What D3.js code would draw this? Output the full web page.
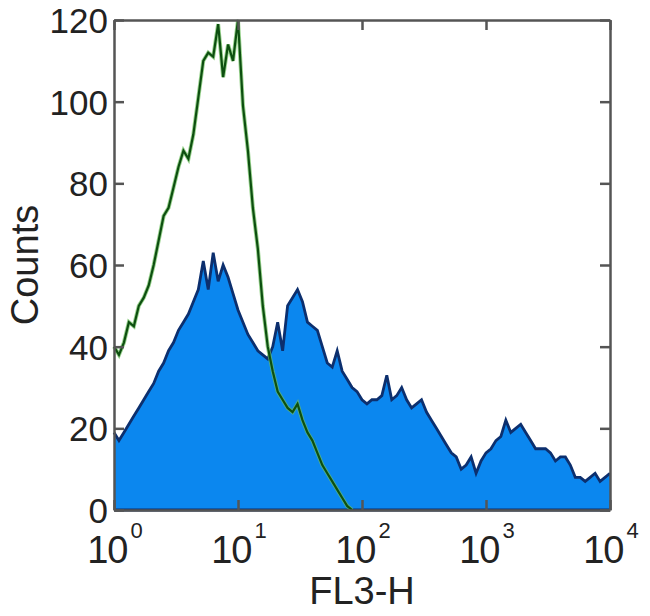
<!DOCTYPE html>
<html>
<head>
<meta charset="utf-8">
<script src="https://cdn.jsdelivr.net/npm/d3@7"></script>
<style>
  html, body { margin: 0; padding: 0; background: #ffffff; }
  svg { display: block; }
</style>
</head>
<body>
<svg id="chart" width="650" height="616"></svg>
<script>
// FL3-H channel positions, in decades (10^x)
const fl3Decades = [
  0.00,0.04,0.08,0.12,0.16,0.20,0.24,0.28,0.32,0.36,
  0.40,0.44,0.48,0.52,0.56,0.60,0.64,0.68,0.72,0.76,
  0.80,0.84,0.88,0.92,0.96,1.00,1.04,1.08,1.12,1.16,
  1.20,1.24,1.28,1.32,1.36,1.40,1.44,1.48,1.52,1.56,
  1.60,1.64,1.68,1.72,1.76,1.80,1.84,1.88,1.92,1.96,
  2.00,2.04,2.08,2.12,2.16,2.20,2.24,2.28,2.32,2.36,
  2.40,2.44,2.48,2.52,2.56,2.60,2.64,2.68,2.72,2.76,
  2.80,2.84,2.88,2.92,2.96,3.00,3.04,3.08,3.12,3.16,
  3.20,3.24,3.28,3.32,3.36,3.40,3.44,3.48,3.52,3.56,
  3.60,3.64,3.68,3.72,3.76,3.80,3.84,3.88,3.92,3.96,
  4.00
];
// Stained sample (blue filled histogram)
const stainedCounts = [
  19,17,19,21,23,25,27,29,31,34,
  36,39,41,44,46,48,51,54,61,54,
  63,56,60,57,53,49,46,43,41,39,
  38,37,40,46,39,50,52,54,51,46,
  45,44,40,36,35,39,34,32,30,29,
  27,26,27,27,28,33,27,28,30,27,
  25,26,27,24,22,20,18,16,14,13,
  10,11,13,9,12,14,15,17,18,22,
  19,20,21,19,17,15,15,15,14,12,
  13,13,11,8,8,7,8,9,7,8,
  9
];
// Isotype control (green line histogram)
const controlCounts = [
  40,38,41,46,45,50,52,55,60,66,
  72,74,79,84,88,86,92,101,110,112,
  111,119,106,114,110,120,99,88,74,64,
  50,40,34,29,27,25,24,26,22,19,
  17,14,11,9,7,5,3,1,0,0,
  0,0,0,0,0,0,0,0,0,0,
  0,0,0,0,0,0,0,0,0,0,
  0,0,0,0,0,0,0,0,0,0,
  0,0,0,0,0,0,0,0,0,0,
  0,0,0,0,0,0,0,0,0,0,
  0
];
const xTickExponents = ["0","1","2","3","4"];
const xTickValues = [1, 10, 100, 1000, 10000];
const yTickValues = [0, 20, 40, 60, 80, 100, 120];
const xTitle = "FL3-H";
const yTitle = "Counts";

const L = 114, R = 610, T = 20, B = 510;
const svg = d3.select("#chart");
const x = d3.scaleLog().domain([1, 10000]).range([L, R]);
const y = d3.scaleLinear().domain([0, 120]).range([B, T]);

const stained = fl3Decades.map((d, i) => ({ v: Math.pow(10, d), c: stainedCounts[i] }));
const control = fl3Decades.map((d, i) => ({ v: Math.pow(10, d), c: controlCounts[i] }))
  .filter((d, i) => i <= 48);

const area = d3.area().x(d => x(d.v)).y0(y(0)).y1(d => y(d.c));
const line = d3.line().x(d => x(d.v)).y(d => y(d.c));

svg.append("path").datum(stained).attr("d", area).attr("fill", "#0b87ef");
svg.append("path").datum(stained).attr("d", line)
  .attr("fill", "none").attr("stroke", "#0c2f6e").attr("stroke-width", 2.8)
  .attr("stroke-linejoin", "miter");
svg.append("line").attr("x1", x(1)).attr("x2", x(10000)).attr("y1", y(0)).attr("y2", y(0))
  .attr("stroke", "#0c2f6e").attr("stroke-width", 3);

svg.append("path").datum(control).attr("d", line)
  .attr("fill", "none").attr("stroke", "#6cbf5c").attr("stroke-width", 4).attr("opacity", 0.7);
svg.append("path").datum(control).attr("d", line)
  .attr("fill", "none").attr("stroke", "#0d4f10").attr("stroke-width", 2.2);

const axisColor = "#555555";
const textColor = "#222222";
const font = "'Liberation Sans', Arial, Helvetica, sans-serif";

function styleAxis(g) {
  g.select(".domain").attr("stroke", axisColor).attr("stroke-width", 2.5);
  g.selectAll(".tick line").attr("stroke", axisColor).attr("stroke-width", 2.5);
  g.selectAll("text").attr("fill", textColor).style("font-family", font);
}

// Left axis
const gLeft = svg.append("g").attr("transform", `translate(${L},0)`)
  .call(d3.axisLeft(y).tickValues(yTickValues).tickSize(-10).tickSizeOuter(0).tickPadding(6).tickFormat(d3.format("d")));
styleAxis(gLeft);
gLeft.selectAll("text").style("font-size", "35px").attr("dy", "0.36em");

// Right axis
const gRight = svg.append("g").attr("transform", `translate(${R},0)`)
  .call(d3.axisRight(y).tickValues(yTickValues).tickSize(-10).tickSizeOuter(0).tickFormat(""));
styleAxis(gRight);

// Top axis
const gTop = svg.append("g").attr("transform", `translate(0,${T})`)
  .call(d3.axisTop(x).tickValues(xTickValues).tickSize(-10).tickSizeOuter(0).tickFormat(""));
styleAxis(gTop);

// Bottom axis
const gBottom = svg.append("g").attr("transform", `translate(0,${B})`)
  .call(d3.axisBottom(x).tickValues(xTickValues).tickSize(-10).tickSizeOuter(0).tickPadding(0).tickFormat(""));
styleAxis(gBottom);
gBottom.selectAll(".tick").each(function(d, i) {
  const t = d3.select(this).select("text");
  t.attr("y", 53).attr("dy", null).attr("text-anchor", "middle")
    .style("font-size", "38px").style("letter-spacing", "-1px");
  t.append("tspan").text("10");
  t.append("tspan").text(xTickExponents[i]).style("font-size", "22px").attr("dx", 3).attr("dy", -25);
});

// Titles
svg.append("text").attr("x", (L + R) / 2).attr("y", 604).attr("text-anchor", "middle")
  .style("font-family", font).style("font-size", "38px").attr("fill", textColor).text(xTitle);
svg.append("text").attr("transform", `translate(38,${(T + B) / 2}) rotate(-90)`)
  .attr("text-anchor", "middle")
  .style("font-family", font).style("font-size", "38px").attr("fill", textColor).text(yTitle);
</script>
</body>
</html>
